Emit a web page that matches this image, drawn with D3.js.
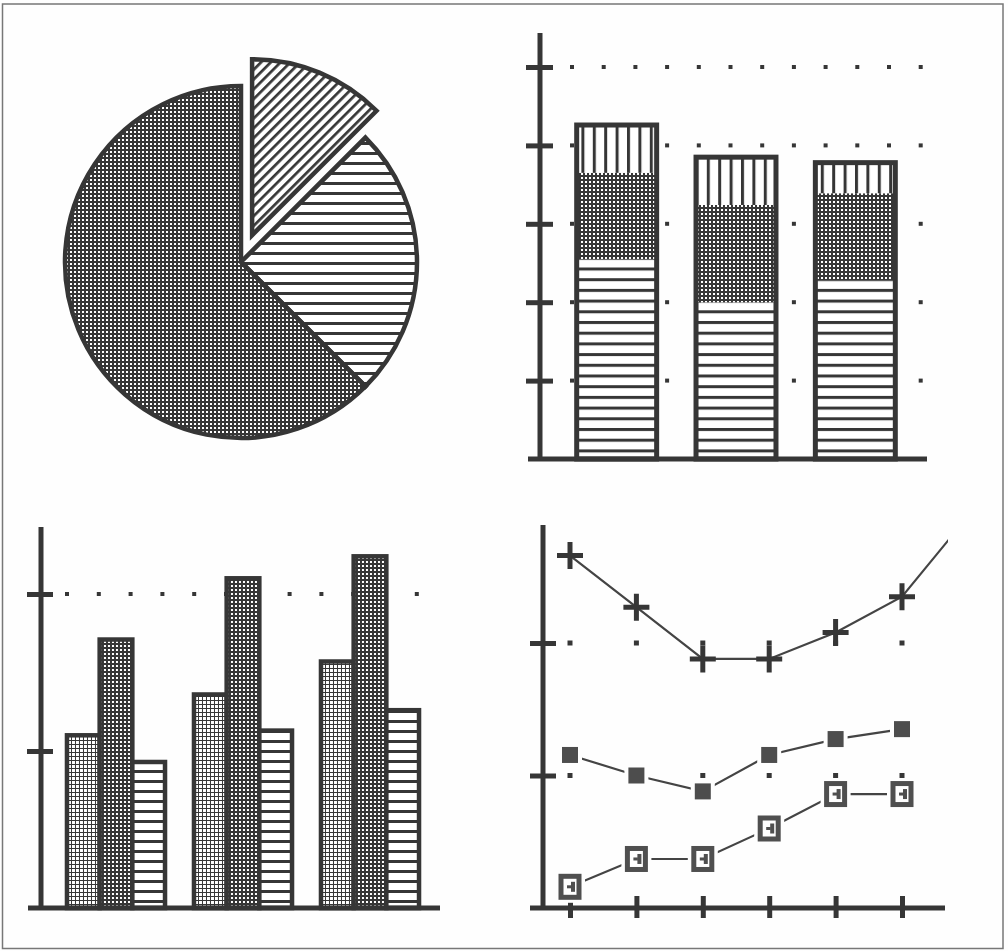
<!DOCTYPE html>
<html>
<head>
<meta charset="utf-8">
<script src="https://cdn.jsdelivr.net/npm/d3@7"></script>
<style>
  html, body { margin: 0; padding: 0; background: #fefefe; }
  svg { display: block; }
</style>
</head>
<body>
<svg id="chart" width="1008" height="951"></svg>
<script>
// ---- data ----
const pieNames = ["North", "East", "West"];
const pieShares = [12.5, 25, 62.5];

const stackGroups = ["Q1", "Q2", "Q3"];
const stackBase = [2.55, 2.00, 2.28];
const stackMid = [1.10, 1.24, 1.11];
const stackCap = [0.61, 0.61, 0.39];
const stackTicks = [1, 2, 3, 4, 5];

const groupNames = ["1986", "1987", "1988"];
const seriesLight = [1.10, 1.36, 1.57];
const seriesDark = [1.71, 2.10, 2.24];
const seriesStriped = [0.93, 1.13, 1.26];
const groupTicks = [1, 2];

const periods = [1, 2, 3, 4, 5, 6];
const plusSeries = [2.66, 2.27, 1.88, 1.88, 2.08, 2.35, 2.96];
const solidSeries = [1.155, 1.00, 0.88, 1.155, 1.275, 1.35];
const openSeries = [0.16, 0.37, 0.37, 0.60, 0.86, 0.86];
const lineTicks = [1, 2];

// ---- styling ----
const INK = "#363636";
const svg = d3.select("#chart");
const defs = svg.append("defs");

// pixel-aligned dot screens: a dark 4x4 tile with one white square hole
function stipplePattern(id, dot) {
  const p = defs.append("pattern").attr("id", id)
    .attr("patternUnits", "userSpaceOnUse").attr("width", 4).attr("height", 4);
  p.append("rect").attr("width", 4).attr("height", 4).attr("fill", INK);
  p.append("rect").attr("x", 1).attr("y", 1).attr("width", dot).attr("height", dot).attr("fill", "#fff");
}
function hStripePattern(id, period, thick) {
  const p = defs.append("pattern").attr("id", id)
    .attr("patternUnits", "userSpaceOnUse").attr("width", 10).attr("height", period);
  p.append("rect").attr("width", 10).attr("height", period).attr("fill", "#fff");
  p.append("rect").attr("width", 10).attr("height", thick).attr("fill", INK);
}
function vStripePattern(id, period, thick) {
  const p = defs.append("pattern").attr("id", id)
    .attr("patternUnits", "userSpaceOnUse").attr("width", period).attr("height", 10);
  p.append("rect").attr("width", period).attr("height", 10).attr("fill", "#fff");
  p.append("rect").attr("width", thick).attr("height", 10).attr("fill", INK);
}
stipplePattern("stipple", 2);
stipplePattern("stipple-light", 3);
hStripePattern("hstripe-pie", 10, 3);
hStripePattern("hstripe-stack", 10.7, 3);
hStripePattern("hstripe-group", 10, 3);
vStripePattern("vstripe", 11.4, 3);
{
  const p = defs.append("pattern").attr("id", "hatch")
    .attr("patternUnits", "userSpaceOnUse").attr("width", 10).attr("height", 6.9)
    .attr("patternTransform", "rotate(-45)");
  p.append("rect").attr("width", 10).attr("height", 6.9).attr("fill", "#fff");
  p.append("rect").attr("width", 10).attr("height", 2.7).attr("fill", INK);
}

// frame
svg.append("rect").attr("x", 2.5).attr("y", 4).attr("width", 1000.5).attr("height", 944.5)
  .attr("fill", "none").attr("stroke", "#777").attr("stroke-width", 1.5);

// ---- pie (top left) ----
{
  const fills = ["url(#hatch)", "url(#hstripe-pie)", "url(#stipple)"];
  const explode = [29, 0, 0];
  const arcs = d3.pie().sort(null).value(d => d)(pieShares);
  const arc = d3.arc().innerRadius(0).outerRadius(176);
  const g = svg.append("g").attr("transform", "translate(241,262)");
  g.selectAll("path").data(arcs).join("path")
    .attr("d", arc)
    .attr("transform", (d, i) => {
      const a = (d.startAngle + d.endAngle) / 2;
      return `translate(${explode[i] * Math.sin(a)},${-explode[i] * Math.cos(a)})`;
    })
    .attr("fill", (d, i) => fills[i])
    .attr("stroke", INK).attr("stroke-width", 4.5).attr("stroke-linejoin", "miter");
}

// ---- stacked bars (top right) ----
{
  const y = d3.scaleLinear().domain([0, 5]).range([459, 67]);
  const x = d3.scaleBand().domain(stackGroups).range([557, 915])
    .paddingInner(0.33).paddingOuter(0.165);
  const g = svg.append("g");

  // dotted grid rows
  const dotXs = d3.range(12).map(k => 572 + k * 31.7);
  stackTicks.forEach(t => {
    g.selectAll(null).data(dotXs).join("rect")
      .attr("x", d => d - 2).attr("y", y(t) - 2).attr("width", 4).attr("height", 4).attr("fill", INK);
  });

  const rows = stackGroups.map((k, i) => ({ key: k, base: stackBase[i], mid: stackMid[i], cap: stackCap[i] }));
  const layers = d3.stack().keys(["base", "mid", "cap"])(rows);
  const fills = { base: "url(#hstripe-stack)", mid: "url(#stipple)", cap: "url(#vstripe)" };
  layers.forEach(layer => {
    g.selectAll(null).data(layer).join("rect")
      .attr("x", d => x(d.data.key)).attr("width", x.bandwidth())
      .attr("y", d => y(d[1])).attr("height", d => y(d[0]) - y(d[1]))
      .attr("fill", fills[layer.key]);
  });
  // bar outlines
  g.selectAll(null).data(rows).join("rect")
    .attr("x", d => x(d.key)).attr("width", x.bandwidth())
    .attr("y", d => y(d.base + d.mid + d.cap))
    .attr("height", d => y(0) - y(d.base + d.mid + d.cap))
    .attr("fill", "none").attr("stroke", INK).attr("stroke-width", 5);

  // axes
  const ax = g.append("g").attr("transform", "translate(540,0)")
    .call(d3.axisLeft(y).tickValues(stackTicks).tickSize(0).tickFormat(""));
  ax.select(".domain").remove();
  ax.selectAll(".tick line").attr("x1", -14).attr("x2", 13).attr("stroke", INK).attr("stroke-width", 5);
  g.append("line").attr("x1", 540).attr("x2", 540).attr("y1", 33).attr("y2", y(0))
    .attr("stroke", INK).attr("stroke-width", 5);
  g.append("line").attr("x1", 528).attr("x2", 927).attr("y1", y(0)).attr("y2", y(0))
    .attr("stroke", INK).attr("stroke-width", 5);
}

// ---- grouped bars (bottom left) ----
{
  const y = d3.scaleLinear().domain([0, 2]).range([908, 594]);
  const x0 = d3.scaleBand().domain(groupNames).range([52.5, 433.5])
    .paddingInner(0.228).paddingOuter(0.114);
  const keys = ["light", "dark", "striped"];
  const x1 = d3.scaleBand().domain(keys).range([0, x0.bandwidth()]);
  const fills = { light: "url(#stipple-light)", dark: "url(#stipple)", striped: "url(#hstripe-group)" };
  const g = svg.append("g");

  const dotXs = d3.range(12).map(k => 67 + k * 31.8);
  g.selectAll(null).data(dotXs).join("rect")
    .attr("x", d => d - 2).attr("y", y(2) - 2).attr("width", 4).attr("height", 4).attr("fill", INK);

  const rows = groupNames.map((n, i) => ({ name: n, light: seriesLight[i], dark: seriesDark[i], striped: seriesStriped[i] }));
  const grp = g.selectAll(null).data(rows).join("g")
    .attr("transform", d => `translate(${x0(d.name)},0)`);
  grp.selectAll("rect").data(d => keys.map(k => ({ k, v: d[k] }))).join("rect")
    .attr("x", d => x1(d.k)).attr("width", x1.bandwidth())
    .attr("y", d => y(d.v)).attr("height", d => y(0) - y(d.v))
    .attr("fill", d => fills[d.k]).attr("stroke", INK).attr("stroke-width", 4.5);

  const ax = g.append("g").attr("transform", "translate(41,0)")
    .call(d3.axisLeft(y).tickValues(groupTicks).tickSize(0).tickFormat(""));
  ax.select(".domain").remove();
  ax.selectAll(".tick line").attr("x1", -14).attr("x2", 12).attr("stroke", INK).attr("stroke-width", 5);
  g.append("line").attr("x1", 41).attr("x2", 41).attr("y1", 527).attr("y2", y(0))
    .attr("stroke", INK).attr("stroke-width", 5);
  g.append("line").attr("x1", 28).attr("x2", 440).attr("y1", y(0)).attr("y2", y(0))
    .attr("stroke", INK).attr("stroke-width", 5);
}

// ---- line chart (bottom right) ----
{
  const x = d3.scaleLinear().domain([1, 6]).range([570, 902]);
  const y = d3.scaleLinear().domain([0, 2]).range([908, 643]);
  const g = svg.append("g");
  const LINE = "#444";

  // grid dots at each period / tick crossing
  lineTicks.forEach(t => {
    g.selectAll(null).data(periods).join("rect")
      .attr("x", d => x(d) - 2.5).attr("y", y(t) - 2.5).attr("width", 5).attr("height", 5).attr("fill", INK);
  });

  // axes
  const ay = g.append("g").attr("transform", "translate(543,0)")
    .call(d3.axisLeft(y).tickValues(lineTicks).tickSize(0).tickFormat(""));
  ay.select(".domain").remove();
  ay.selectAll(".tick line").attr("x1", -13).attr("x2", 13).attr("stroke", INK).attr("stroke-width", 5);
  const axx = g.append("g").attr("transform", `translate(0,${y(0)})`)
    .call(d3.axisBottom(x).tickValues(periods).tickSize(0).tickFormat(""));
  axx.select(".domain").remove();
  axx.selectAll(".tick line").attr("y1", -12).attr("y2", 10).attr("stroke", INK).attr("stroke-width", 5);
  g.append("line").attr("x1", 543).attr("x2", 543).attr("y1", 525).attr("y2", y(0))
    .attr("stroke", INK).attr("stroke-width", 5);
  g.append("line").attr("x1", 530).attr("x2", 945).attr("y1", y(0)).attr("y2", y(0))
    .attr("stroke", INK).attr("stroke-width", 5);

  // series lines, clipped to the plot frame
  defs.append("clipPath").attr("id", "plot-clip")
    .append("rect").attr("x", 530).attr("y", 520).attr("width", 418).attr("height", 400);
  const line = d3.line().x((d, i) => x(i + 1)).y(d => y(d));
  const lines = g.append("g").attr("clip-path", "url(#plot-clip)");
  [plusSeries, solidSeries, openSeries].forEach(s => {
    lines.append("path").attr("d", line(s)).attr("fill", "none")
      .attr("stroke", LINE).attr("stroke-width", 2.2);
  });

  // plus markers
  g.selectAll(null).data(plusSeries.slice(0, periods.length)).join("path")
    .attr("transform", (d, i) => `translate(${x(i + 1)},${y(d)})`)
    .attr("d", "M-13,0H13M0,-13.5V13.5")
    .attr("stroke", INK).attr("stroke-width", 5).attr("fill", "none");

  // filled squares
  const sq = g.selectAll(null).data(solidSeries).join("g")
    .attr("transform", (d, i) => `translate(${x(i + 1)},${y(d)})`);
  sq.append("rect").attr("x", -12).attr("y", -12).attr("width", 24).attr("height", 24).attr("fill", "#fefefe");
  sq.append("rect").attr("x", -8).attr("y", -8).attr("width", 16).attr("height", 16).attr("fill", "#4d4d4d");

  // open squares with inner mark
  const os = g.selectAll(null).data(openSeries).join("g")
    .attr("transform", (d, i) => `translate(${x(i + 1)},${y(d)})`);
  os.append("rect").attr("x", -15).attr("y", -16).attr("width", 30).attr("height", 32).attr("fill", "#fefefe");
  os.append("rect").attr("x", -11.5).attr("y", -13).attr("width", 23).attr("height", 26).attr("fill", "#4f4f4f");
  os.append("rect").attr("x", -6.5).attr("y", -8).attr("width", 13).attr("height", 16).attr("fill", "#fefefe");
  os.append("rect").attr("x", 1).attr("y", -5).attr("width", 4).attr("height", 10).attr("fill", "#4f4f4f");
  os.append("rect").attr("x", -3).attr("y", -1.5).attr("width", 4.5).attr("height", 3).attr("fill", "#4f4f4f");
}
</script>
</body>
</html>
